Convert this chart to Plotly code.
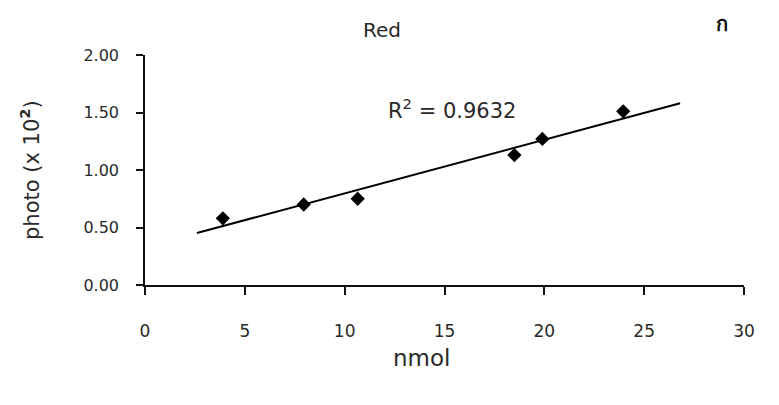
import numpy as np
import plotly.graph_objects as go

# data
nmol = [3.9, 7.95, 10.65, 18.5, 19.9, 23.95]
photo = [0.58, 0.70, 0.75, 1.13, 1.27, 1.51]
trend_x_range = [2.6, 26.8]
r_squared_text = "R<sup>2</sup> = 0.9632"
x_ticks = [0, 5, 10, 15, 20, 25, 30]
y_ticks = [0.0, 0.5, 1.0, 1.5, 2.0]

slope, intercept = np.polyfit(nmol, photo, 1)
tx = np.array(trend_x_range)
ty = slope * tx + intercept

FONT = "DejaVu Sans, Liberation Sans, sans-serif"
TXT = "#2a2a2a"

fig = go.Figure()
fig.add_trace(go.Scatter(x=tx, y=ty, mode="lines",
                         line=dict(color="black", width=2), showlegend=False))
fig.add_trace(go.Scatter(x=nmol, y=photo, mode="markers",
                         marker=dict(symbol="diamond", size=11, color="black"),
                         showlegend=False))

fig.update_layout(
    width=779, height=405,
    margin=dict(l=145, r=35, t=55, b=120),
    paper_bgcolor="white", plot_bgcolor="white",
    font=dict(family=FONT, color=TXT),
    xaxis=dict(range=[0, 30], tickvals=x_ticks, showgrid=False, zeroline=False,
               showline=True, linecolor="#111", linewidth=1.5,
               ticks="outside", ticklen=8, tickcolor="#111", tickwidth=1.5,
               tickfont=dict(size=17, color=TXT), ticklabelstandoff=22),
    yaxis=dict(range=[0, 2], tickvals=y_ticks, tickformat=".2f", showgrid=False,
               zeroline=False, showline=True, linecolor="#111", linewidth=1.5,
               ticks="outside", ticklen=7, tickcolor="#111", tickwidth=1.5,
               tickfont=dict(size=16, color=TXT), ticklabelstandoff=14),
    annotations=[
        dict(text="Red", xref="paper", yref="paper", x=0.396, y=1.109,
             xanchor="center", yanchor="middle",
             showarrow=False, font=dict(size=20, color=TXT)),
        dict(text="<b>ก</b>", xref="paper", yref="paper", x=0.963, y=1.135,
             xanchor="center", yanchor="middle",
             showarrow=False, font=dict(size=20, color="#111")),
        dict(text="nmol", xref="paper", yref="paper", x=0.462, y=-0.317,
             xanchor="center", yanchor="middle",
             showarrow=False, font=dict(size=23, color=TXT)),
        dict(text="photo (x 10<sup><b>2</b></sup>)", xref="paper", yref="paper",
             x=-0.192, y=0.5, textangle=-90, xanchor="center", yanchor="middle",
             showarrow=False, font=dict(size=21, color=TXT)),
        dict(text=r_squared_text, xref="x", yref="y", x=15.37, y=1.53,
             xanchor="center", yanchor="middle",
             showarrow=False, font=dict(size=21, color=TXT)),
    ],
)

fig.write_html("out.html")
